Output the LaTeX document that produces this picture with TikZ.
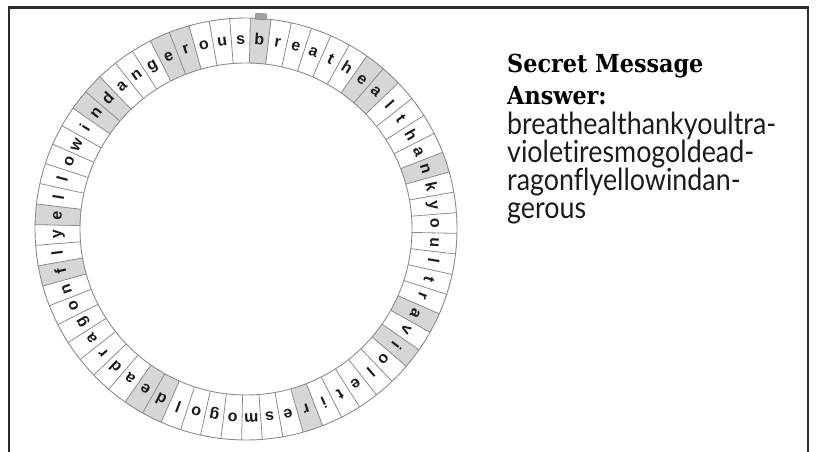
\documentclass[tikz,border=0pt]{standalone}
\usepackage{fontspec}
\newfontfamily\ringfont{Liberation Sans}
\newfontfamily\headfont[FakeStretch=0.9]{DejaVu Serif}
\newfontfamily\bodyfont[FakeStretch=0.88,Ligatures={NoCommon}]{Lato}
\definecolor{ringline}{HTML}{8C8C8C}
\definecolor{cellshade}{HTML}{D6D6D6}
\definecolor{inkdark}{HTML}{1C1C1C}
\definecolor{framecol}{HTML}{2A2A2A}
\tikzset{
  frameline/.style={draw=framecol, line width=2.6pt},
  ringcircle/.style={draw=ringline, line width=0.9pt},
  celldiv/.style={draw=ringline, line width=0.8pt},
  shadecell/.style={fill=cellshade},
  ringletter/.style={inner sep=0pt, text=inkdark, font=\ringfont\bfseries\fontsize{16}{16}\selectfont, text height=8.6pt, text depth=0pt},
  headtext/.style={inner sep=0pt, anchor=base west, text=black, font=\headfont\bfseries\fontsize{24.8}{26}\selectfont},
  bodytext/.style={inner sep=0pt, anchor=base west, text=inkdark, font=\bodyfont\fontsize{30.5}{31}\selectfont},
  tabmark/.style={fill=gray!75, draw=gray!90!black, line width=0.4pt, minimum width=11pt, minimum height=6pt, inner sep=0pt}
}
\begin{document}
\begin{tikzpicture}[x=1pt,y=1pt]
\useasboundingbox (0,0) rectangle (817,452);
% frame
\draw[frameline] (9,0) -- (9,444.5) -- (808,444.5) -- (808,0);
% ring
\begin{scope}[shift={(246,223)}]
  \def\rin{166}
  \def\rout{211}
  \def\rlet{189}
  \def\cw{5.625}
  \def\start{86}
  % shaded cells
  \foreach \k in {0,6,7,12,20,22,28,36,37,45,48,54,55,59,60} {
    \pgfmathsetmacro{\aa}{\start-\k*\cw+\cw/2}
    \pgfmathsetmacro{\ab}{\start-\k*\cw-\cw/2}
    \fill[shadecell] (\aa:\rin) arc[start angle=\aa, end angle=\ab, radius=\rin]
       -- (\ab:\rout) arc[start angle=\ab, end angle=\aa, radius=\rout] -- cycle;
  }
  % circles
  \draw[ringcircle] (0,0) circle[radius=\rout];
  \draw[ringcircle] (0,0) circle[radius=\rin];
  % cell dividers
  \foreach \k in {0,...,63} {
    \pgfmathsetmacro{\ad}{\start-\k*\cw+\cw/2}
    \draw[celldiv] (\ad:\rin) -- (\ad:\rout);
  }
  % tab above the starting cell
  \node[tabmark, rotate=\start-90] (tab) at (\start:{\rout+2}) {};
  % letters
  \foreach \ch [count=\i from 0] in {b,r,e,a,t,h,e,a,l,t,h,a,n,k,y,o,u,l,t,r,a,v,i,o,l,e,t,i,r,e,s,m,o,g,o,l,d,e,a,d,r,a,g,o,n,f,l,y,e,l,l,o,w,i,n,d,a,n,g,e,r,o,u,s} {
    \pgfmathsetmacro{\al}{\start-\i*\cw}
    \node[ringletter, rotate=\al-90] (let\i) at (\al:\rlet) {\ch};
  }
\end{scope}
% answer text
\node[headtext] (title) at (507,379) {Secret Message};
\node[headtext] (answer) at (507,347) {Answer:};
\node[bodytext] (line1) at (507,317) {breathealthankyoultra-};
\node[bodytext] (line2) at (507,289) {violetiresmogoldead-};
\node[bodytext] (line3) at (507,261) {ragonflyellowindan-};
\node[bodytext] (line4) at (507,233) {gerous};
\end{tikzpicture}
\end{document}
